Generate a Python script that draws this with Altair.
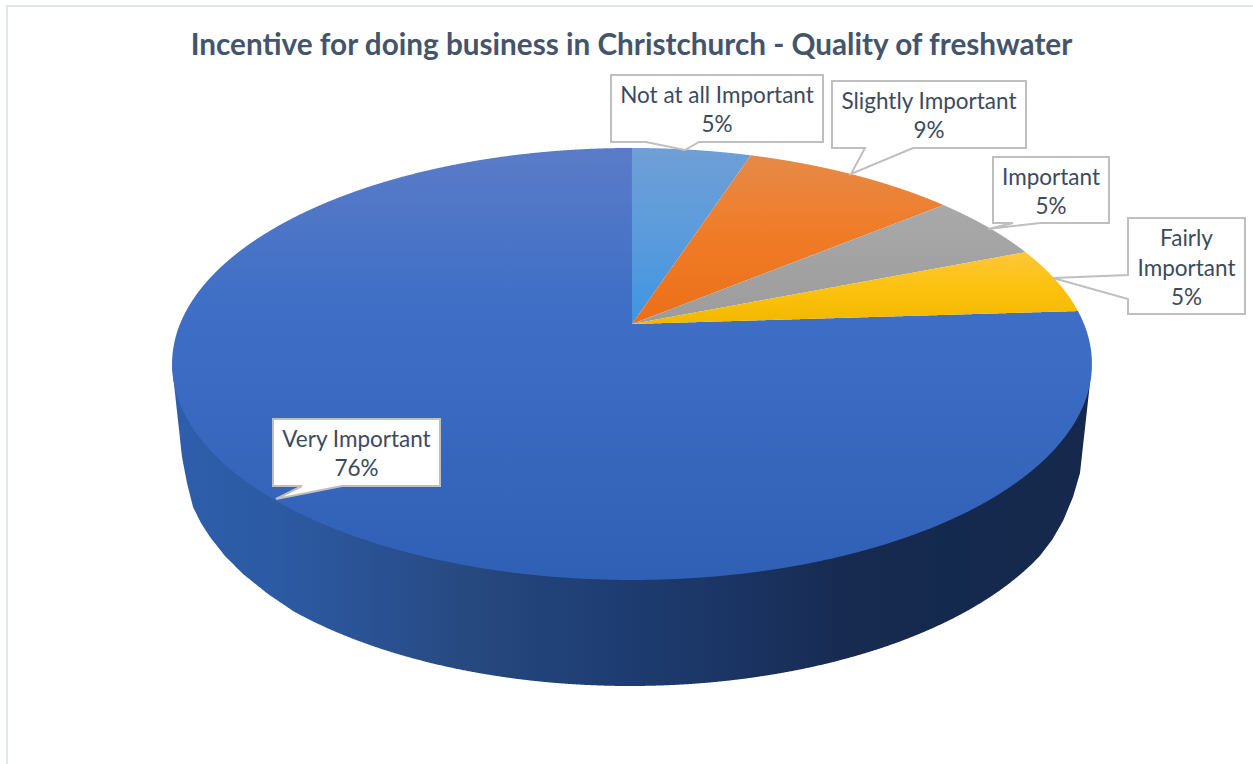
import altair as alt
import numpy as np
import pandas as pd

TITLE = "Incentive for doing business in Christchurch - Quality of freshwater"
categories = ["Not at all Important", "Slightly Important", "Important", "Fairly Important", "Very Important"]
shares = [5, 9, 5, 5, 76]
label_lines = [["Not at all Important"], ["Slightly Important"], ["Important"], ["Fairly", "Important"], ["Very Important"]]

W, H = 1253, 764
APEX_X, APEX_Y = 632.0, 324.0
RX, RY, TILT = 452.0, 208.6, 0.185

face_fills = [
    [("#6f9fd6", 0.0), ("#5b9bdc", 0.5), ("#3f95e2", 1.0)],
    [("#e68a48", 0.0), ("#f07c28", 0.45), ("#ec6f18", 1.0)],
    [("#a9a9a9", 0.0), ("#a2a2a2", 0.5), ("#9c9c9c", 1.0)],
    [("#fdc73a", 0.0), ("#fcc20e", 0.5), ("#f2b800", 1.0)],
    [("#5b7cc8", 0.0), ("#3f6fc6", 0.35), ("#2f60b6", 1.0)],
]
wall_stops = [("#2e5eac", 0.0), ("#2c5aa3", 0.12), ("#294f8e", 0.25), ("#26497f", 0.32),
              ("#1f3f75", 0.45), ("#1b3565", 0.6), ("#172a50", 0.74), ("#14294e", 0.85), ("#16294c", 1.0)]


def rim(theta):
    """Perspective position of a point on the pie's rim; theta runs clockwise from twelve o'clock."""
    u, v = np.sin(theta), -np.cos(theta)
    w = 1 - TILT * v
    return APEX_X + RX * u / w, APEX_Y + RY * v / w


def band(points):
    """Upper and lower outline of a polygon as columns an area mark can take."""
    px, py = np.array([p[0] for p in points]), np.array([p[1] for p in points])
    e = 0.02
    xs = np.unique(np.concatenate([
        px - e, px + e,
        np.linspace(px.min() + e, px.max() - e, 900),
    ]))
    xs = xs[(xs >= px.min()) & (xs <= px.max())]
    rows = []
    for x in xs:
        hits = []
        for i in range(len(px)):
            j = (i + 1) % len(px)
            if (px[i] <= x <= px[j]) or (px[j] <= x <= px[i]):
                if px[i] != px[j]:
                    hits.append(py[i] + (x - px[i]) * (py[j] - py[i]) / (px[j] - px[i]))
        if hits:
            rows.append({"x": x, "y": min(hits), "y2": max(hits)})
    return pd.DataFrame(rows)


def gradient(stops, vertical=True):
    return alt.Gradient(
        gradient="linear",
        stops=[alt.GradientStop(color=c, offset=o) for c, o in stops],
        x1=0, x2=0 if vertical else 1, y1=0, y2=1 if vertical else 0,
    )


sx = alt.Scale(domain=[0, W], nice=False, zero=False)
sy = alt.Scale(domain=[H, 0], nice=False, zero=False)
X = alt.X("x:Q", scale=sx, axis=None)
Y = alt.Y("y:Q", scale=sy, axis=None)


def filled(points, fill):
    return alt.Chart(band(points)).mark_area(orient="vertical", fill=fill, stroke=None).encode(
        x=X, y=Y, y2="y2:Q"
    )


layers = []

# Side wall of the disc: curved underside between two sloping silhouette edges
wall_cx, wall_cy, wall_a, wall_b = 630.0, 461.0, 452.0, 225.0
under_x = np.linspace(1040, 293, 400)
under = [(x, wall_cy + wall_b * np.sqrt(1 - ((x - wall_cx) / wall_a) ** 2)) for x in under_x]
wall = ([(172.0, 366.0), (1091.0, 366.0), (1090.0, 383.0), (1080.0, 473.0), (1073.0, 497.0),
         (1063.0, 521.0), (1052.0, 540.0)]
        + under + [(268.0, 594.0), (243.0, 574.0), (225.0, 556.0), (210.0, 537.0), (201.0, 523.0),
                   (193.0, 507.0), (187.0, 483.0), (182.0, 457.0)])
layers.append(filled(wall, gradient(wall_stops, vertical=False)))

# Top face, one wedge per category; the largest wedge goes first
starts = np.cumsum([0] + shares[:-1]) / sum(shares) * 2 * np.pi
ends = np.cumsum(shares) / sum(shares) * 2 * np.pi
for i in [4, 0, 1, 2, 3]:
    tt = np.linspace(starts[i], ends[i], max(40, int(shares[i] * 12)))
    arc = [rim(t) for t in tt]
    layers.append(filled([(APEX_X, APEX_Y)] + arc, gradient(face_fills[i])))

# Callout boxes: (left, right, top, bottom), pointer base and pointer tip
callouts = [
    dict(box=(611, 823, 75, 142), base=[(646, 142), (699, 142)], tip=(685, 150), side="bottom", ty=[96, 125]),
    dict(box=(832, 1026, 81, 148), base=[(865, 148), (913, 148)], tip=(851, 174), side="bottom", ty=[102, 131]),
    dict(box=(993, 1109, 157, 223), base=[(1013, 223), (1040, 223)], tip=(988, 229), side="bottom", ty=[178, 207]),
    dict(box=(1128, 1245, 218, 314), base=[(1128, 275), (1128, 299)], tip=(1053, 278), side="left", ty=[239, 269, 298]),
    dict(box=(273, 440, 419, 486), base=[(302, 486), (342, 486)], tip=(276, 499), side="bottom", ty=[440, 469]),
]

outline_rows, text_rows = [], []
for name, share, lines, c in zip(categories, shares, label_lines, callouts):
    x0, x1, y0, y1 = c["box"]
    a, b = c["base"]
    if c["side"] == "bottom":
        path = [(x0, y0), (x1, y0), (x1, y1), b, c["tip"], a, (x0, y1), (x0, y0)]
    else:
        path = [(x0, y0), (x1, y0), (x1, y1), (x0, y1), b, c["tip"], a, (x0, y0)]
    outline_rows += [{"name": name, "i": k, "x": p[0], "y": p[1]} for k, p in enumerate(path)]
    layers.append(alt.Chart(pd.DataFrame([{"x": x0, "x2": x1, "y": y0, "y2": y1}])).mark_rect(fill="white", stroke=None).encode(
        x=X, x2="x2:Q", y=Y, y2="y2:Q"))
    layers.append(filled([a, c["tip"], b], "white"))
    for line, ty in zip(lines + [f"{share}%"], c["ty"]):
        text_rows.append({"x": (x0 + x1) / 2, "y": ty, "t": line})

layers.append(alt.Chart(pd.DataFrame(outline_rows)).mark_line(
    stroke="#bfbfbf", strokeWidth=2, strokeJoin="miter", strokeCap="square"
).encode(x=X, y=Y, detail="name:N", order="i:Q"))

layers.append(alt.Chart(pd.DataFrame(text_rows)).mark_text(
    font="Lato", fontSize=22.5, color="#3c4a5e", align="center", baseline="middle"
).encode(x=X, y=Y, text="t:N"))

# Chart frame: only its top and left edges fall inside the page
frame_color = "#e1e5ec"
layers.append(alt.Chart(pd.DataFrame([{"x": 7, "y": 6, "y2": H}])).mark_rule(color=frame_color, strokeWidth=2).encode(x=X, y=Y, y2="y2:Q"))
layers.append(alt.Chart(pd.DataFrame([{"x": 6, "x2": W, "y": 6}])).mark_rule(color=frame_color, strokeWidth=2).encode(x=X, x2="x2:Q", y=Y))

chart = alt.layer(*layers).properties(
    width=W, height=H, padding=0, autosize=alt.AutoSizeParams(type="none"),
    background="white",
    title=alt.TitleParams(TITLE, font="Lato", fontSize=29.7, fontWeight="bold", color="#44546a",
                          anchor="middle", dx=5, dy=62, offset=0),
).configure_view(strokeWidth=0)

chart.save("out.html", embed_options={"renderer": "svg", "actions": False})
